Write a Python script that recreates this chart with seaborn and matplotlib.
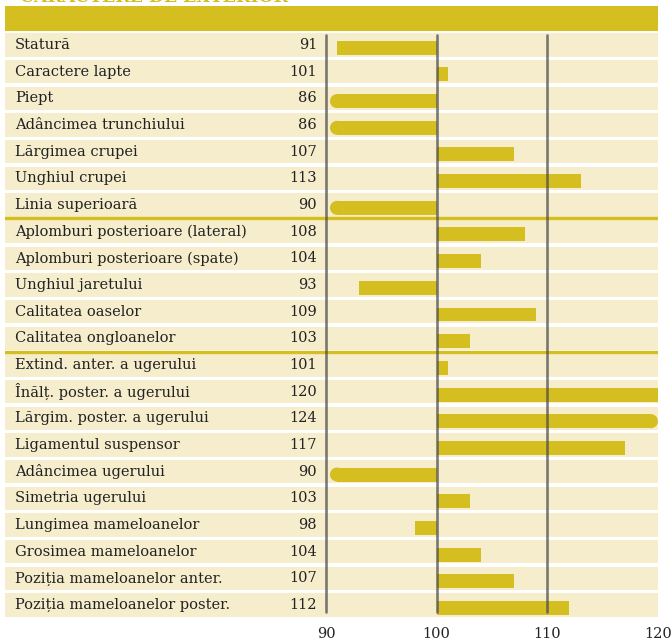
import numpy as np
import pandas as pd
import matplotlib
matplotlib.use("Agg")
import matplotlib.pyplot as plt
from matplotlib.patches import Rectangle, Ellipse
import seaborn as sns

# ---------------- data ----------------
traits = [
    "Statură", "Caractere lapte", "Piept", "Adâncimea trunchiului",
    "Lărgimea crupei", "Unghiul crupei", "Linia superioară",
    "Aplomburi posterioare (lateral)", "Aplomburi posterioare (spate)",
    "Unghiul jaretului", "Calitatea oaselor", "Calitatea ongloanelor",
    "Extind. anter. a ugerului", "Înălț. poster. a ugerului",
    "Lărgim. poster. a ugerului", "Ligamentul suspensor",
    "Adâncimea ugerului", "Simetria ugerului", "Lungimea mameloanelor",
    "Grosimea mameloanelor", "Poziția mameloanelor anter.",
    "Poziția mameloanelor poster.",
]
values = [91, 101, 86, 86, 107, 113, 90, 108, 104, 93, 109, 103,
          101, 120, 124, 117, 90, 103, 98, 104, 107, 112]
group_breaks = [7, 12]          # rows after which a separator line is drawn
tick_values = [90, 100, 110, 120]
title_text = "CARACTERE DE EXTERIOR"

# ---------------- style ----------------
YELLOW = "#D5BF20"
CREAM = "#F6EDCD"
LINE = "#4A4A4A"
TEXT = "#222222"
FONT = "DejaVu Serif"

sns.set_theme(style="white")
plt.rcParams["font.family"] = [FONT, "DejaVu Sans"]

W, H = 672, 641
fig = plt.figure(figsize=(W / 100, H / 100), dpi=100)
fig.patch.set_facecolor("white")

# geometry in pixels
n = len(traits)
pitch = 26.67
ax_left, ax_right = 5, 658
ax_top = 45 - pitch / 2
ax_bottom = ax_top + n * pitch
ref = 100.0
lo, hi = 90.36, 120.0
px_per_unit = (658 - 326) / 30.0
xmin = (90 - ref) - (326 - ax_left) / px_per_unit

ax = fig.add_axes([ax_left / W, 1 - ax_bottom / H,
                   (ax_right - ax_left) / W, (ax_bottom - ax_top) / H])
ax.set_xlim(xmin, hi - ref)
ax.set_ylim(n - 0.5, -0.5)
ax.set_facecolor("white")

# row bands
band_h = 23.3 / pitch
for i in range(n):
    ax.add_patch(Rectangle((xmin, i - band_h / 2), (hi - ref) - xmin, band_h,
                           facecolor=CREAM, edgecolor="none", zorder=0))

# separators
for b in group_breaks:
    ax.axhline(b - 0.5, color=YELLOW, lw=2.4, zorder=1)

# bars (from 100 to value, clipped to the visible range)
vals = np.array(values, dtype=float)
clipped = np.clip(vals, lo, hi)
cap_r = 7 / px_per_unit
bar_h = 14 / pitch
ypos = np.arange(n) + 2.8 / pitch
ends = clipped.copy()
needs_cap = (vals < lo) | (vals > hi)
ends[vals < lo] = lo + cap_r
ends[vals > hi] = hi - cap_r
df = pd.DataFrame({"diff": ends - ref, "y": ypos})
sns.barplot(data=df, x="diff", y="y", orient="y", native_scale=True,
            color=YELLOW, saturation=1, width=bar_h, ax=ax, zorder=2,
            edgecolor="none", linewidth=0)
for i in np.where(needs_cap)[0]:
    ax.add_patch(Ellipse((ends[i] - ref, ypos[i]), 2 * cap_r, bar_h,
                         facecolor=YELLOW, edgecolor="none", zorder=2))

# vertical reference lines
ymin_frac = (ax_bottom - 612) / (ax_bottom - ax_top)
ymax_frac = (ax_bottom - 35) / (ax_bottom - ax_top)
for t in tick_values[:-1]:
    ax.axvline(t - ref, ymin=ymin_frac, ymax=ymax_frac, color=LINE,
               alpha=0.72, lw=1.9, zorder=3)

# labels and values
label_x = xmin + (15 - ax_left) / px_per_unit
num_x = xmin + (317 - ax_left) / px_per_unit
for i, (t, v) in enumerate(zip(traits, values)):
    ax.text(label_x, i, t, ha="left", va="center", fontsize=10.5,
            color=TEXT, family=[FONT, "DejaVu Sans"])
    ax.text(num_x, i, str(v), ha="right", va="center", fontsize=10.5,
            color=TEXT, family=[FONT, "DejaVu Sans"])

# axes cosmetics
ax.set_xticks([t - ref for t in tick_values])
ax.set_xticklabels([str(t) for t in tick_values], fontsize=10.5,
                   color=TEXT, family=FONT)
ax.tick_params(axis="x", length=0, pad=6)
ax.set_yticks([])
ax.set_xlabel("")
ax.set_ylabel("")
for s in ax.spines.values():
    s.set_visible(False)

# header band
fig.add_artist(Rectangle((ax_left / W, 1 - 31 / H), (ax_right - ax_left) / W,
                         24.5 / H, transform=fig.transFigure,
                         facecolor=YELLOW, edgecolor="none"))
# title: only its lower edge falls inside the picture, as in the reference
fig.text(20 / W, 1 - 2.5 / H, title_text, ha="left", va="baseline",
         fontsize=12.5, fontweight="bold", color=YELLOW, family=FONT)

fig.savefig("out.png", dpi=100)
